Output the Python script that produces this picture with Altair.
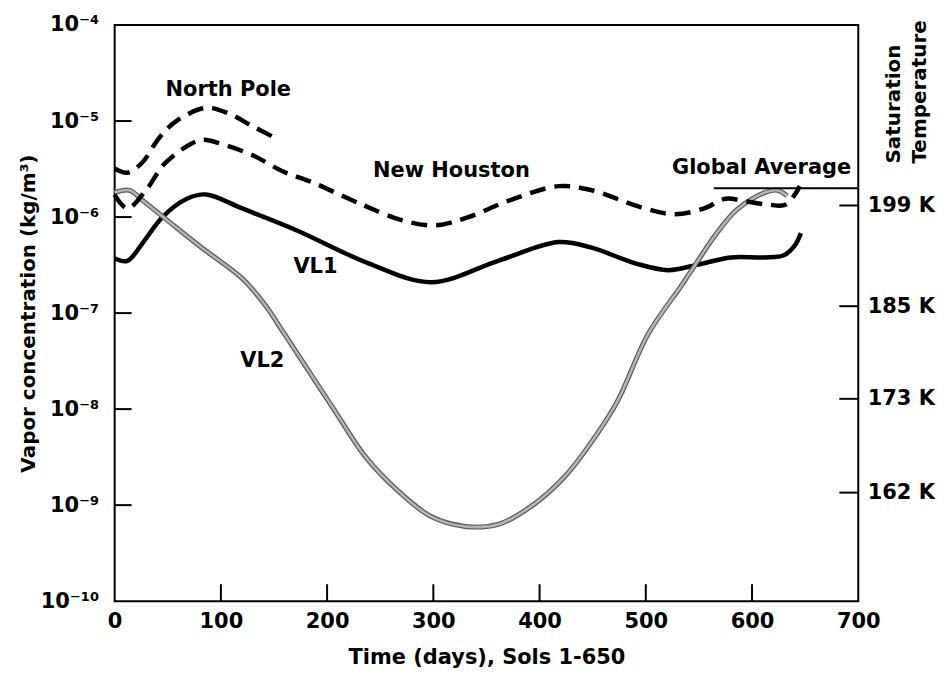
import altair as alt
import pandas as pd

# ---- data (days, kg/m^3) ----
np_days = [0, 12, 26, 42, 58, 86, 108, 130, 152]
np_vals = [3.2e-6, 2.9e-6, 3.7e-6, 6.7e-6, 1.0e-5, 1.37e-5, 1.19e-5, 8.8e-6, 6.6e-6]

nh_days = [0, 12, 30, 47, 72, 84, 100, 130, 158, 186, 220, 239, 270, 302, 333, 371,
           418, 449, 495, 527, 555, 575, 595, 615, 632, 645]
nh_vals = [1.7e-6, 1.23e-6, 1.94e-6, 3.6e-6, 5.8e-6, 6.4e-6, 5.8e-6, 4.4e-6, 3.0e-6,
           2.3e-6, 1.56e-6, 1.26e-6, 9.3e-7, 8.2e-7, 1.0e-6, 1.48e-6, 2.1e-6, 1.9e-6,
           1.27e-6, 1.07e-6, 1.23e-6, 1.55e-6, 1.45e-6, 1.35e-6, 1.35e-6, 2.1e-6]

vl1_days = [0, 12, 26, 45, 68, 86, 120, 171, 239, 298, 361, 418, 449, 490, 521, 549,
            580, 612, 630, 640, 646]
vl1_vals = [3.7e-7, 3.5e-7, 5.3e-7, 1.0e-6, 1.55e-6, 1.72e-6, 1.23e-6, 7.3e-7, 3.3e-7,
            2.1e-7, 3.5e-7, 5.5e-7, 4.8e-7, 3.3e-7, 2.8e-7, 3.2e-7, 3.8e-7, 3.8e-7,
            4.0e-7, 5.0e-7, 6.8e-7]

vl2_days = [0, 14, 26, 52, 83, 120, 142, 158, 174, 205, 236, 267, 298, 330, 361, 392,
            424, 455, 474, 502, 533, 549, 565, 586, 612, 624, 633]
vl2_vals = [1.8e-6, 1.9e-6, 1.5e-6, 8.8e-7, 4.7e-7, 2.3e-7, 1.2e-7, 6.5e-8, 3.5e-8,
            1.05e-8, 3.2e-9, 1.4e-9, 7.6e-10, 6.0e-10, 6.3e-10, 9.7e-10, 2.0e-9, 5.7e-9,
            1.25e-8, 6.0e-8, 1.9e-7, 3.5e-7, 6.4e-7, 1.2e-6, 1.8e-6, 1.9e-6, 1.66e-6]

ga_days = [564, 700]
ga_val = 2.0e-6

x_ticks = [100, 200, 300, 400, 500, 600]
x_labels = [0, 100, 200, 300, 400, 500, 600, 700]
y_decades = [1e-10, 1e-9, 1e-8, 1e-7, 1e-6, 1e-5, 1e-4]
y_labels = ["10⁻¹⁰", "10⁻⁹", "10⁻⁸", "10⁻⁷", "10⁻⁶", "10⁻⁵", "10⁻⁴"]
y_inner_ticks = [1e-9, 1e-8, 1e-7, 1e-6, 1e-5]

temp_vals = [1.32e-6, 1.18e-7, 1.28e-8, 1.35e-9]
temp_labels = ["199 K", "185 K", "173 K", "162 K"]

ann_text = ["North Pole", "New Houston", "VL1", "VL2", "Global Average"]
ann_day = [107, 317, 189, 139, 609]
ann_val = [2.1e-5, 3.05e-6, 3.0e-7, 3.2e-8, 3.27e-6]

# ---- chart ----
W, H = 746, 578
FONT = "DejaVu Sans"


def xsc():
    return alt.Scale(domain=[0, 700], nice=False, zero=False)


def ysc():
    return alt.Scale(type="log", domain=[1e-10, 1e-4], nice=False)


def series(days, vals):
    return pd.DataFrame({"day": days, "val": vals})


def label_expr(values, labels):
    expr = "''"
    for v, lab in zip(values, labels):
        expr = f"abs(log(datum.value) - log({v})) < 0.05 ? '{lab}' : " + "(" + expr + ")"
    return expr


base_x = alt.X("day:Q", scale=xsc(), axis=None)
base_y = alt.Y("val:Q", scale=ysc(), axis=None)

axis_x = alt.X(
    "day:Q", scale=xsc(),
    axis=alt.Axis(values=x_labels, format="d", ticks=False, domain=False, grid=False,
                  labelFlush=False, labelOverlap=False,
                  labelPadding=9, title="Time (days), Sols 1-650", titlePadding=16),
)
axis_y = alt.Y(
    "val:Q", scale=ysc(),
    axis=alt.Axis(values=y_decades, labelExpr=label_expr(y_decades, y_labels),
                  ticks=False, domain=False, grid=False, labelPadding=16,
                  labelFlush=False, labelOverlap=False,
                  title="Vapor concentration (kg/m³)", titleFontSize=20, titleX=-76),
)

INTERP = "catmull-rom"

vl1 = alt.Chart(series(vl1_days, vl1_vals)).mark_line(
    color="black", strokeWidth=4.5, interpolate=INTERP
).encode(x=axis_x, y=axis_y)

vl2_under = alt.Chart(series(vl2_days, vl2_vals)).mark_line(
    color="#5a5a5a", strokeWidth=5, interpolate=INTERP
).encode(x=base_x, y=base_y)
vl2_over = alt.Chart(series(vl2_days, vl2_vals)).mark_line(
    color="#b4b4b4", strokeWidth=2.6, interpolate=INTERP
).encode(x=base_x, y=base_y)

npole = alt.Chart(series(np_days, np_vals)).mark_line(
    color="black", strokeWidth=4.5, strokeDash=[16, 9], interpolate=INTERP
).encode(x=base_x, y=base_y)

nhouston = alt.Chart(series(nh_days, nh_vals)).mark_line(
    color="black", strokeWidth=4.5, strokeDash=[16, 9], interpolate=INTERP
).encode(x=base_x, y=base_y)

ga = alt.Chart(pd.DataFrame({"d1": [ga_days[0]], "d2": [ga_days[1]], "val": [ga_val]})).mark_rule(
    color="black", strokeWidth=2
).encode(x=alt.X("d1:Q", scale=xsc(), axis=None), x2="d2:Q", y=base_y)

xt = alt.Chart(pd.DataFrame({"day": x_ticks})).mark_rule(color="black", strokeWidth=2).encode(
    x=base_x, y=alt.value(H), y2=alt.value(H - 17)
)
yt = alt.Chart(pd.DataFrame({"val": y_inner_ticks})).mark_rule(color="black", strokeWidth=2).encode(
    y=base_y, x=alt.value(0), x2=alt.value(17)
)

ann = alt.Chart(pd.DataFrame({"day": ann_day, "val": ann_val, "t": ann_text})).mark_text(
    font=FONT, fontSize=21, fontWeight="bold", color="black", align="center", baseline="middle"
).encode(x=base_x, y=base_y, text="t:N")

right_axis = alt.Chart(pd.DataFrame({"val": temp_vals})).mark_rule(
    color="black", strokeWidth=2
).encode(
    x=alt.value(W - 19), x2=alt.value(W),
    y=alt.Y("val:Q", scale=ysc(),
            axis=alt.Axis(orient="right", values=temp_vals,
                          labelExpr=label_expr(temp_vals, temp_labels),
                          labelFlush=False, labelOverlap=False,
                          ticks=False, domain=False, grid=False, labelPadding=9, title=None)),
)

sat_title = alt.Chart(pd.DataFrame({"t": ["Saturation\nTemperature"]})).mark_text(
    font=FONT, fontSize=20, fontWeight="bold", color="black", angle=270,
    align="left", baseline="top", lineBreak="\n", lineHeight=26
).encode(x=alt.value(W + 26), y=alt.value(139), text="t:N")

chart = alt.layer(
    vl1, vl2_under, vl2_over, npole, nhouston, ga, xt, yt, ann, right_axis, sat_title
).resolve_scale(
    x="independent", y="independent"
).properties(
    width=W, height=H, background="white",
    autosize=alt.AutoSizeParams(type="none"),
    padding={"left": 107, "top": 16, "right": 82, "bottom": 70},
).configure_view(
    stroke="black", strokeWidth=2
).configure_axis(
    labelFont=FONT, labelFontSize=21, labelFontWeight="bold", labelColor="black",
    titleFont=FONT, titleFontSize=21, titleFontWeight="bold", titleColor="black",
)

chart.save("out.html", embed_options={"renderer": "svg", "actions": False})
